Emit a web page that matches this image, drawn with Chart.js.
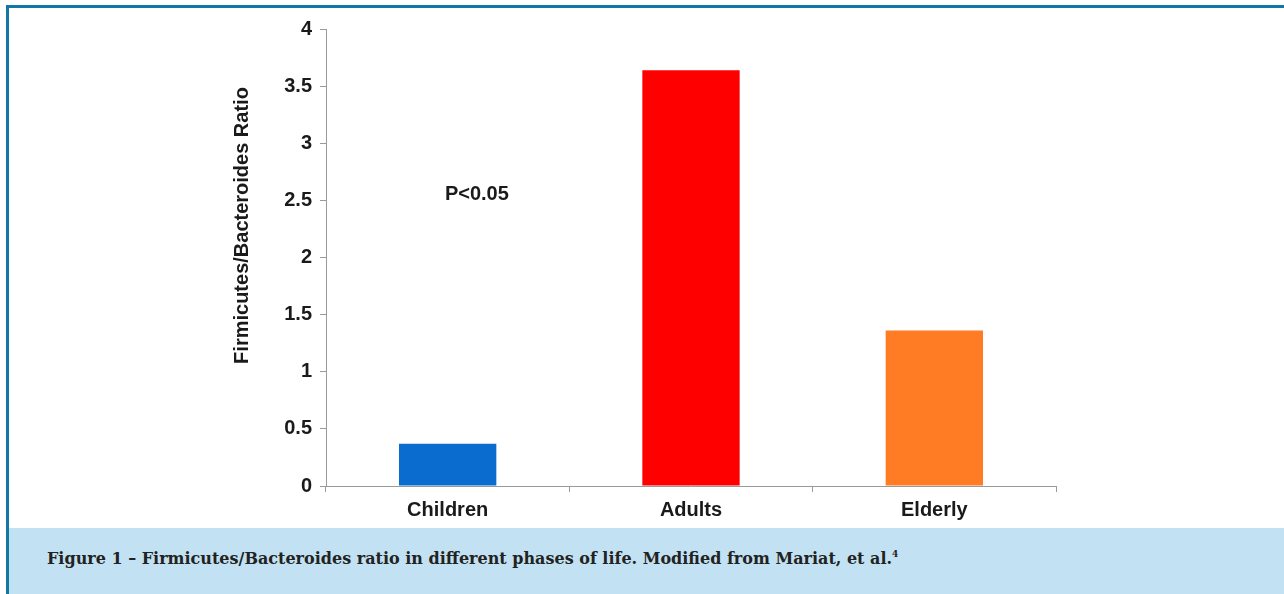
<!DOCTYPE html>
<html>
<head>
<meta charset="utf-8">
<script src="https://cdn.jsdelivr.net/npm/chart.js@4"></script>
<style>
  html, body { margin: 0; padding: 0; background: #fff; }
  #frame {
    position: absolute; left: 6px; top: 5px; width: 1278px; height: 589px;
    border-top: 3px solid #1277a3; border-left: 3px solid #1277a3;
    box-sizing: border-box; background: #fff;
  }
  #chart-box { position: absolute; left: 0; top: 0; width: 1284px; height: 528px; }
  #caption {
    position: absolute; left: 9px; top: 528px; width: 1275px; height: 66px;
    background: #c2e2f3;
    font-family: "DejaVu Serif", "Liberation Serif", serif; font-weight: bold;
    font-size: 16px; color: #222; box-sizing: border-box; padding: 21px 0 0 38px;
  }
  #caption sup { font-size: 9px; vertical-align: 7px; line-height: 0; }
</style>
</head>
<body>
<div id="frame"></div>
<div id="chart-box"><canvas id="chart"></canvas></div>
<div id="caption">Figure 1 – Firmicutes/Bacteroides ratio in different phases of life. Modified from Mariat, et al.<sup>4</sup></div>
<script>
  // Chart data
  const groups = ["Children", "Adults", "Elderly"];
  const ratios = [0.37, 3.64, 1.36];
  const barColors = ["#0b6ccf", "#ff0000", "#ff7b24"];
  const yTitle = "Firmicutes/Bacteroides Ratio";
  const note = { text: "P<0.05", x: 0.12, y: 2.55 };

  const axisFont = { family: "Liberation Sans, Arial, sans-serif", size: 20, weight: "bold" };

  // draws the p-value note and the y axis title
  const extraText = {
    id: "extraText",
    afterDraw(chart) {
      const ctx = chart.ctx;
      const xs = chart.scales.x, ys = chart.scales.y;
      ctx.save();
      ctx.fillStyle = "#1a1a1a";
      ctx.font = "bold 20px Liberation Sans, Arial, sans-serif";
      ctx.textAlign = "center";
      ctx.textBaseline = "middle";
      ctx.fillText(note.text, xs.getPixelForValue(note.x), ys.getPixelForValue(note.y));

      const area = chart.chartArea;
      ctx.translate(242, area.top + (area.bottom - area.top) * 0.43);
      ctx.rotate(-Math.PI / 2);
      ctx.fillText(yTitle, 0, 0);
      ctx.restore();
    }
  };

  const ctx = document.getElementById("chart").getContext("2d");
  new Chart(ctx, {
    type: "bar",
    data: {
      labels: groups,
      datasets: [{
        data: ratios,
        backgroundColor: barColors,
        borderWidth: 0,
        categoryPercentage: 0.4,
        barPercentage: 1.0
      }]
    },
    options: {
      responsive: true,
      maintainAspectRatio: false,
      animation: false,
      layout: { padding: { left: 230, right: 228, top: 29, bottom: 0 } },
      plugins: { legend: { display: false }, tooltip: { enabled: false } },
      scales: {
        x: {
          grid: { offset: true, drawOnChartArea: false, drawTicks: true, tickLength: 6, color: "#9a9a9a" },
          border: { display: true, color: "#9a9a9a", width: 1 },
          ticks: { color: "#1a1a1a", font: axisFont, padding: 6 },
          afterFit(scale) { scale.height = 42; }
        },
        y: {
          min: 0,
          max: 4,
          ticks: {
            stepSize: 0.5, color: "#1a1a1a", font: axisFont, padding: 8,
            callback: (v) => String(v)
          },
          grid: { drawOnChartArea: false, drawTicks: true, tickLength: 6, color: "#9a9a9a" },
          border: { display: true, color: "#9a9a9a", width: 1 },
          afterFit(scale) { scale.width = 96; }
        }
      }
    },
    plugins: [extraText]
  });
</script>
</body>
</html>
